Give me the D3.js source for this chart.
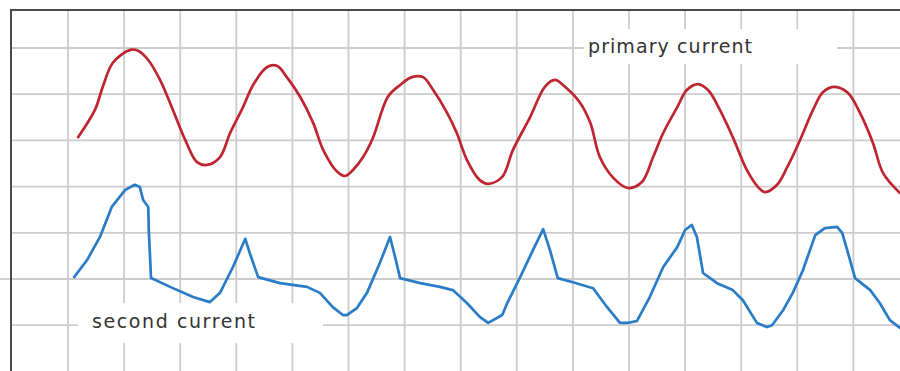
<!DOCTYPE html>
<html>
<head>
<meta charset="utf-8">
<script src="https://cdn.jsdelivr.net/npm/d3@7/dist/d3.min.js"></script>
<style>
  html, body { margin: 0; padding: 0; background: #fff; }
  svg { display: block; }
</style>
</head>
<body>
<svg id="chart" width="900" height="371"></svg>
<script>
// ---- data (time in grid divisions, current in grid divisions) ----
const primaryT = [1.18,1.48,1.62,1.80,2.11,2.25,2.43,2.64,2.87,3.09,3.30,3.48,3.71,3.89,4.12,4.30,4.55,4.73,4.90,5.14,5.37,5.55,5.80,5.94,6.08,6.26,6.44,6.70,6.92,7.13,7.33,7.51,7.76,7.93,8.11,8.34,8.49,8.74,8.93,9.24,9.50,9.68,9.86,10.13,10.31,10.48,10.72,10.98,11.23,11.43,11.61,11.86,12.03,12.23,12.41,12.62,12.85,13.10,13.30,13.42,13.64,13.82,14.05,14.28,14.46,14.67,14.90,15.12,15.35,15.53,15.83];
const primaryI = [1.07,1.66,2.16,2.68,2.96,2.94,2.74,2.31,1.66,1.01,0.53,0.47,0.64,1.16,1.72,2.20,2.59,2.61,2.37,1.94,1.38,0.79,0.32,0.23,0.36,0.64,1.07,1.94,2.20,2.37,2.37,2.09,1.59,1.16,0.58,0.14,0.06,0.21,0.79,1.51,2.16,2.31,2.16,1.81,1.38,0.64,0.19,-0.03,0.10,0.64,1.16,1.72,2.09,2.22,2.09,1.66,1.07,0.36,-0.01,-0.12,0.04,0.42,1.01,1.66,2.05,2.16,2.03,1.59,0.94,0.29,-0.14];

const secondT = [1.11,1.34,1.57,1.78,2.02,2.19,2.28,2.34,2.43,2.44,2.48,2.82,3.23,3.53,3.71,3.94,4.16,4.24,4.39,4.78,5.26,5.49,5.72,5.90,5.97,6.15,6.33,6.56,6.74,6.83,6.92,7.28,7.63,7.86,8.11,8.34,8.49,8.74,8.83,9.06,9.29,9.47,9.59,9.73,10.00,10.36,10.61,10.84,10.98,11.14,11.37,11.61,11.86,12.00,12.12,12.21,12.32,12.57,12.85,13.03,13.28,13.46,13.55,13.75,13.92,14.10,14.32,14.49,14.71,14.80,14.94,15.03,15.30,15.47,15.65,15.83];
const secondI = [-1.96,-1.59,-1.09,-0.44,-0.07,0.04,-0.01,-0.29,-0.44,-0.94,-1.98,-2.17,-2.39,-2.50,-2.30,-1.74,-1.13,-1.44,-1.96,-2.09,-2.17,-2.30,-2.61,-2.78,-2.78,-2.63,-2.30,-1.65,-1.09,-1.52,-1.98,-2.09,-2.17,-2.24,-2.52,-2.82,-2.95,-2.78,-2.52,-1.96,-1.37,-0.92,-1.37,-1.98,-2.07,-2.20,-2.61,-2.95,-2.95,-2.91,-2.39,-1.74,-1.31,-0.94,-0.83,-1.09,-1.87,-2.09,-2.24,-2.46,-2.95,-3.04,-3.00,-2.67,-2.30,-1.81,-1.05,-0.90,-0.87,-1.00,-1.59,-1.98,-2.24,-2.52,-2.89,-3.06];

const xGridTicks = [1,2,3,4,5,6,7,8,9,10,11,12,13,14,15];
const yGridTicks = [-3,-2,-1,0,1,2,3];
const seriesNames = ["primary current", "second current"];

// ---- layout ----
const W = 900, H = 371;
const svg = d3.select("#chart");
const x = d3.scaleLinear().domain([0, 16]).range([11.9, 909.5]);
const y = d3.scaleLinear().domain([-4, 4]).range([371.4, 1.8]);
const frameLeft = 11, frameTop = 10;

// grid
const grid = svg.append("g").attr("stroke", "#cccccc").attr("stroke-width", 1.8);
grid.selectAll("line.v").data(xGridTicks).join("line")
  .attr("class", "v")
  .attr("x1", d => x(d)).attr("x2", d => x(d))
  .attr("y1", frameTop).attr("y2", H);
grid.selectAll("line.h").data(yGridTicks).join("line")
  .attr("class", "h")
  .attr("x1", frameLeft).attr("x2", W)
  .attr("y1", d => y(d)).attr("y2", d => y(d));

// small tick left of frame at one gridline
svg.append("line").attr("x1", 0).attr("x2", frameLeft)
  .attr("y1", y(-2)).attr("y2", y(-2))
  .attr("stroke", "#cccccc").attr("stroke-width", 1.8);

// label backgrounds (hide grid under labels)
svg.append("rect").attr("x", 584).attr("y", 29).attr("width", 253).attr("height", 35).attr("fill", "#fff");
svg.append("rect").attr("x", 78).attr("y", 303).attr("width", 245).attr("height", 40).attr("fill", "#fff");

// frame
svg.append("path")
  .attr("d", `M${frameLeft},${H} L${frameLeft},${frameTop} L${W},${frameTop}`)
  .attr("fill", "none").attr("stroke", "#4a4a4a").attr("stroke-width", 2);

// lines
const redData = primaryT.map((t, i) => [t, primaryI[i]]);
const blueData = secondT.map((t, i) => [t, secondI[i]]);

const lineSmooth = d3.line().x(d => x(d[0])).y(d => y(d[1])).curve(d3.curveCatmullRom.alpha(0.5));
const lineSharp = d3.line().x(d => x(d[0])).y(d => y(d[1])).curve(d3.curveLinear);

svg.append("path").datum(redData)
  .attr("d", lineSmooth)
  .attr("fill", "none").attr("stroke", "#bf2530").attr("stroke-width", 2.7)
  .attr("stroke-linejoin", "round").attr("stroke-linecap", "round");

svg.append("path").datum(blueData)
  .attr("d", lineSharp)
  .attr("fill", "none").attr("stroke", "#2a7cc6").attr("stroke-width", 2.7)
  .attr("stroke-linejoin", "round").attr("stroke-linecap", "round");

// labels
svg.append("text").attr("x", 588).attr("y", 53)
  .attr("textLength", 164).attr("lengthAdjust", "spacing")
  .attr("font-family", "DejaVu Sans, Verdana, sans-serif").attr("font-size", 19)
  .attr("fill", "#333").text(seriesNames[0]);
svg.append("text").attr("x", 92).attr("y", 328)
  .attr("textLength", 163).attr("lengthAdjust", "spacing")
  .attr("font-family", "DejaVu Sans, Verdana, sans-serif").attr("font-size", 19)
  .attr("fill", "#333").text(seriesNames[1]);
</script>
</body>
</html>
